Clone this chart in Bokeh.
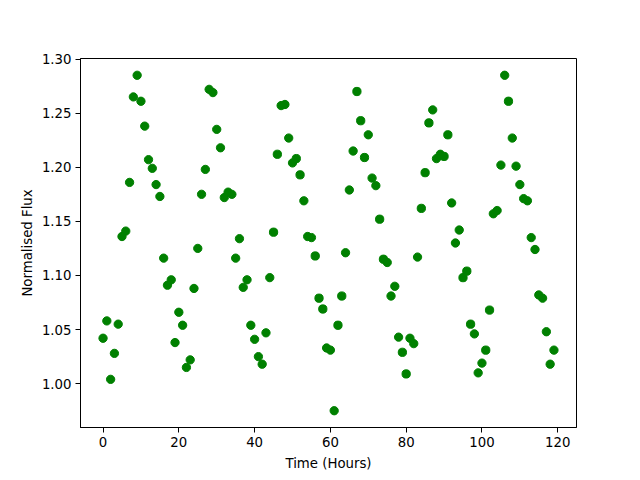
from bokeh.plotting import figure
from bokeh.models import FixedTicker, NumeralTickFormatter, Range1d
from bokeh.embed import file_html
from bokeh.resources import INLINE

hours = [0, 1, 2, 3, 4, 5, 6, 7, 8, 9, 10, 11, 12, 13, 14, 15, 16, 17, 18, 19,
         20, 21, 22, 23, 24, 25, 26, 27, 28, 29, 30, 31, 32, 33, 34, 35, 36, 37, 38, 39,
         40, 41, 42, 43, 44, 45, 46, 47, 48, 49, 50, 51, 52, 53, 54, 55, 56, 57, 58, 59,
         60, 61, 62, 63, 64, 65, 66, 67, 68, 69, 70, 71, 72, 73, 74, 75, 76, 77, 78, 79,
         80, 81, 82, 83, 84, 85, 86, 87, 88, 89, 90, 91, 92, 93, 94, 95, 96, 97, 98, 99,
         100, 101, 102, 103, 104, 105, 106, 107, 108, 109, 110, 111, 112, 113, 114, 115, 116, 117, 118, 119]

flux = [1.042, 1.058, 1.004, 1.028, 1.055, 1.136, 1.141, 1.186, 1.265, 1.285,
        1.261, 1.238, 1.207, 1.199, 1.184, 1.173, 1.116, 1.091, 1.096, 1.038,
        1.066, 1.054, 1.015, 1.022, 1.088, 1.125, 1.175, 1.198, 1.272, 1.269,
        1.235, 1.218, 1.172, 1.177, 1.175, 1.116, 1.134, 1.089, 1.096, 1.054,
        1.041, 1.025, 1.018, 1.047, 1.098, 1.140, 1.212, 1.257, 1.258, 1.227,
        1.204, 1.208, 1.193, 1.169, 1.136, 1.135, 1.118, 1.079, 1.069, 1.033,
        1.031, 0.975, 1.054, 1.081, 1.121, 1.179, 1.215, 1.270, 1.243, 1.209,
        1.230, 1.190, 1.183, 1.152, 1.115, 1.112, 1.081, 1.090, 1.043, 1.029,
        1.009, 1.042, 1.037, 1.117, 1.162, 1.195, 1.241, 1.253, 1.208, 1.212,
        1.210, 1.230, 1.167, 1.130, 1.142, 1.098, 1.104, 1.055, 1.046, 1.010,
        1.019, 1.031, 1.068, 1.157, 1.160, 1.202, 1.285, 1.261, 1.227, 1.201,
        1.184, 1.171, 1.169, 1.135, 1.124, 1.082, 1.079, 1.048, 1.018, 1.031]

x_ticks = [0, 20, 40, 60, 80, 100, 120]
y_ticks = [1.00, 1.05, 1.10, 1.15, 1.20, 1.25, 1.30]

FONT = "DejaVu Sans"
FS = "13.3px"

p = figure(frame_width=496, frame_height=369,
           min_border_left=80, min_border_right=56,
           min_border_top=58, min_border_bottom=47,
           output_backend="svg", toolbar_location=None,
           x_range=Range1d(-5.95, 124.95), y_range=Range1d(0.9595, 1.3005))

p.scatter(hours, flux, size=8.3, fill_color="green", line_color="green")

p.grid.visible = False
p.outline_line_color = "black"
p.outline_line_width = 1
p.background_fill_color = "white"
p.border_fill_color = "white"

p.xaxis.ticker = FixedTicker(ticks=x_ticks)
p.yaxis.ticker = FixedTicker(ticks=y_ticks)
p.yaxis.formatter = NumeralTickFormatter(format="0.00")
p.xaxis.axis_label = "Time (Hours)"
p.yaxis.axis_label = "Normalised Flux"

for ax in (p.xaxis[0], p.yaxis[0]):
    ax.axis_line_color = "black"
    ax.axis_line_width = 1
    ax.major_tick_out = 5
    ax.major_tick_in = 0
    ax.minor_tick_out = 0
    ax.minor_tick_in = 0
    ax.major_tick_line_color = "black"
    ax.major_label_standoff = 4
    ax.major_label_text_font = FONT
    ax.major_label_text_font_size = FS
    ax.major_label_text_color = "black"
    ax.axis_label_text_font = FONT
    ax.axis_label_text_font_size = FS
    ax.axis_label_text_font_style = "normal"
    ax.axis_label_text_color = "black"
    ax.axis_label_standoff = 6

p.yaxis[0].axis_label_standoff = 4

open("out.html", "w").write(file_html(p, INLINE))
